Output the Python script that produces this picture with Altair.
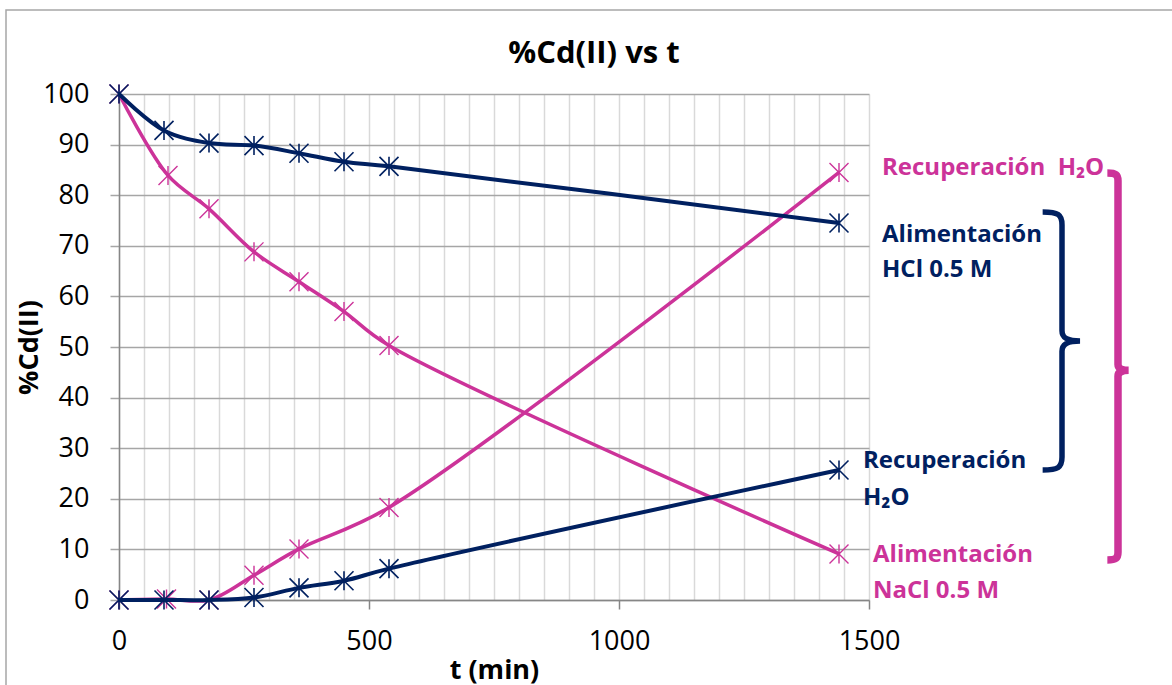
import altair as alt
import pandas as pd

# ---- data ----
t_hcl = [0, 90, 180, 270, 360, 450, 540, 1440]
feed_hcl = [100, 92.8, 90.3, 89.8, 88.3, 86.6, 85.7, 74.5]
rec_hcl = [0, 0, 0, 0.5, 2.4, 3.8, 6.2, 25.7]

t_nacl_feed = [0, 98, 180, 270, 360, 450, 540, 1440]
feed_nacl = [100, 83.9, 77.3, 68.8, 62.9, 57.0, 50.3, 9.1]
t_nacl_rec = [0, 95, 180, 270, 360, 540, 1440]
rec_nacl = [0, 0.2, 0, 4.9, 10.1, 18.3, 84.5]

x_ticks = [0, 500, 1000, 1500]
x_grid = [0, 50, 100, 150, 200, 250, 300, 350, 400, 450, 500, 550, 600, 650, 700,
          750, 800, 850, 900, 950, 1000, 1050, 1100, 1150, 1200, 1250, 1300, 1350,
          1400, 1450, 1500]
y_ticks = [0, 10, 20, 30, 40, 50, 60, 70, 80, 90, 100]

title_text = "%Cd(II) vs t"
x_title = "t (min)"
y_title = "%Cd(II)"
lbl_pink_rec = "Recuperación\u00a0 H\u2082O"
lbl_blue_feed = "Alimentación\nHCl 0.5 M"
lbl_blue_rec = "Recuperación\nH\u2082O"
lbl_pink_feed = "Alimentación\nNaCl 0.5 M"

# ---- styles ----
BLUE = "#002060"
PINK = "#CC3399"
AXC = "#868686"
FONT = "Open Sans"
STAR = "M0,-1L0,1M-1,-1L1,1M-1,1L1,-1"
BRACE_BLUE = ("M-0.15,-1C-0.03,-1 0,-0.98 0,-0.9L0,-0.08C0,-0.02 0.05,0 0.14,0"
              "C0.05,0 0,0.02 0,0.08L0,0.9C0,0.98 -0.03,1 -0.15,1")
BRACE_PINK = ("M-0.055,-1C-0.01,-1 0,-0.99 0,-0.96L0,-0.01C0,0.01 0.02,0.02 0.055,0.02"
              "C0.02,0.02 0,0.03 0,0.05L0,0.96C0,0.99 -0.01,1 -0.055,1")

blue = pd.DataFrame({
    "t": t_hcl + t_hcl,
    "v": feed_hcl + rec_hcl,
    "s": ["feed"] * len(t_hcl) + ["rec"] * len(t_hcl),
})
pink = pd.DataFrame({
    "t": t_nacl_feed + t_nacl_rec,
    "v": feed_nacl + rec_nacl,
    "s": ["feed"] * len(t_nacl_feed) + ["rec"] * len(t_nacl_rec),
})
one = pd.DataFrame({"a": [0]})

xs = alt.Scale(domain=[0, 1500], nice=False, zero=False)
ys = alt.Scale(domain=[0, 100], nice=False)

grid_x_axis = alt.Axis(orient="bottom", values=x_grid, grid=True, gridColor="#d9d9d9",
                       gridWidth=1.5, labels=False, ticks=False, domain=False, title=None)
main_x_axis = alt.Axis(orient="bottom", values=x_ticks, grid=False, format="d", labelFont=FONT,
                       labelFontSize=27, labelColor="black", labelPadding=19,
                       labelFlush=False, tickSize=9, tickColor=AXC, tickWidth=1.5,
                       domainColor=AXC, domainWidth=1.5, title=x_title,
                       titleFont=FONT, titleFontSize=27, titleFontWeight="bold",
                       titleColor="black", titleY=78, titleBaseline="alphabetic")
y_axis = alt.Axis(orient="left", values=y_ticks, grid=True, gridColor="#a6a6a6", gridWidth=1.5,
                  format="d", labelFont=FONT, labelFontSize=27, labelColor="black",
                  labelPadding=21, labelFlush=False, tickSize=9, tickColor="#a6a6a6",
                  tickWidth=1.5, domainColor=AXC, domainWidth=1.5, title=y_title,
                  titleFont=FONT, titleFontSize=27, titleFontWeight="bold",
                  titleColor="black", titleAngle=270, titleX=-90, titleY=253,
                  titleAlign="center", titleBaseline="middle")

border = alt.Chart(one).mark_rect(fillOpacity=0, stroke="#a6a6a6", strokeWidth=1.5).encode(
    x=alt.value(-113), x2=alt.value(1100), y=alt.value(-84), y2=alt.value(700))

pink_line = alt.Chart(pink).mark_line(interpolate="catmull-rom", color=PINK, strokeWidth=3.5).encode(
    x=alt.X("t:Q", scale=xs, axis=grid_x_axis),
    y=alt.Y("v:Q", scale=ys, axis=y_axis),
    detail="s:N")
pink_pts = alt.Chart(pink).mark_point(shape=STAR, size=361, filled=False, color=PINK,
                                      strokeWidth=1.4, opacity=1).encode(
    x=alt.X("t:Q", scale=xs, axis=None), y=alt.Y("v:Q", scale=ys, axis=None))
blue_line = alt.Chart(blue).mark_line(interpolate="catmull-rom", color=BLUE, strokeWidth=4).encode(
    x=alt.X("t:Q", scale=xs, axis=main_x_axis),
    y=alt.Y("v:Q", scale=ys, axis=None),
    detail="s:N")
blue_pts = alt.Chart(blue).mark_point(shape=STAR, size=361, filled=False, color=BLUE,
                                      strokeWidth=1.6, opacity=1).encode(
    x=alt.X("t:Q", scale=xs, axis=None), y=alt.Y("v:Q", scale=ys, axis=None))

def label(text, color, x, y, size=24, lh=36, align="left", weight="bold"):
    return alt.Chart(one).mark_text(text=text, color=color, font=FONT, fontSize=size,
                                    fontWeight=weight, align=align, baseline="alphabetic",
                                    lineBreak="\n", lineHeight=lh).encode(
        x=alt.value(x), y=alt.value(y))

title = label(title_text, "black", 475, -31, size=31, align="center")
t1 = label(lbl_pink_rec, PINK, 763, 81)
t2 = label(lbl_blue_feed, BLUE, 763, 148, lh=35)
t3 = label(lbl_blue_rec, BLUE, 744, 374, lh=37)
t4 = label(lbl_pink_feed, PINK, 754, 468, lh=36)

brace_blue = alt.Chart(one).mark_point(shape=BRACE_BLUE, size=66564, filled=False, color=BLUE,
                                       strokeWidth=5.5, opacity=1).encode(
    x=alt.value(943), y=alt.value(247))
brace_pink = alt.Chart(one).mark_point(shape=BRACE_PINK, size=149769, filled=False, color=PINK,
                                       strokeWidth=7.5, opacity=1).encode(
    x=alt.value(999), y=alt.value(272.5))

chart = alt.layer(
    border, pink_line, pink_pts, blue_line, blue_pts,
    title, t1, t2, t3, t4, brace_blue, brace_pink
).resolve_axis(x="independent", y="independent").properties(
    width=750, height=506,
    padding={"left": 119, "top": 94, "right": 303, "bottom": 85},
    autosize=alt.AutoSizeParams(type="none"),
    background="white",
).configure_view(strokeWidth=0)

chart.save("out.html", embed_options={"renderer": "svg", "actions": False})
